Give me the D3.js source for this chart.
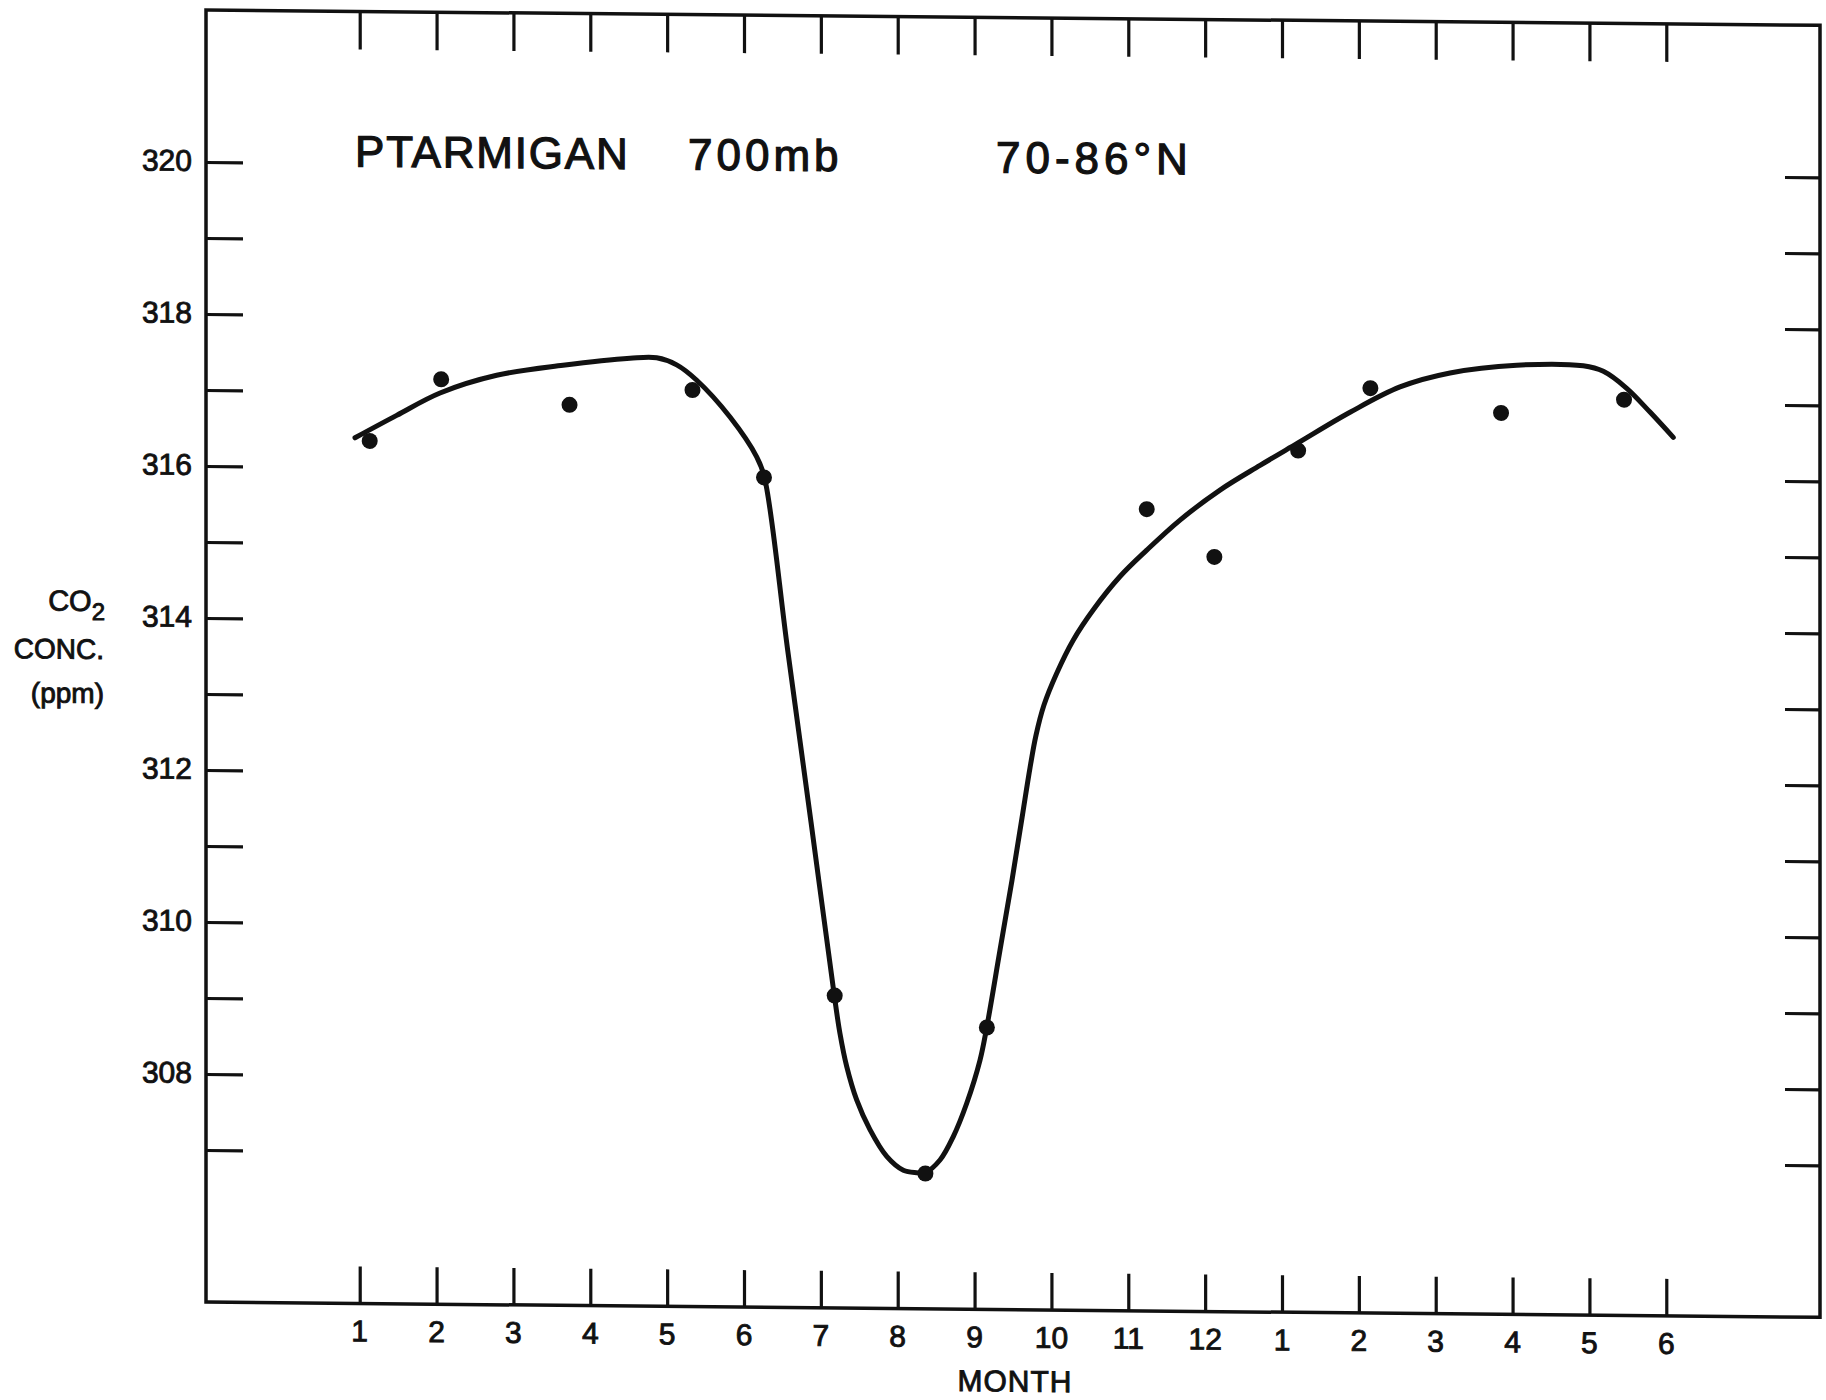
<!DOCTYPE html>
<html>
<head>
<meta charset="utf-8">
<script src="https://cdn.jsdelivr.net/npm/d3@7"></script>
<style>
  html, body { margin: 0; padding: 0; background: #fff; }
  svg { display: block; }
  text { font-family: "Liberation Sans", Arial, sans-serif; fill: #111; stroke: #111; stroke-width: 0.9; }
</style>
</head>
<body>
<svg id="chart" width="1826" height="1400"></svg>
<script>
// ---- data ----
const monthLabels = ["1","2","3","4","5","6","7","8","9","10","11","12","1","2","3","4","5","6"];
const monthPos = d3.range(1, 19);

const yTickValues = d3.range(307, 321);           // tick marks 307..320
const yLabelValues = [308, 310, 312, 314, 316, 318, 320];

// observed points (month index, ppm)
const obsMonth = [1.13, 2.06, 3.73, 5.33, 6.26, 7.18, 8.36, 9.16, 11.24, 12.12, 13.21, 14.15, 15.85, 17.45];
const obsCO2   = [316.35, 317.17, 316.85, 317.06, 315.92, 309.11, 306.78, 308.71, 315.55, 314.93, 316.34, 317.17, 316.86, 317.05];

// hand-drawn fitted curve (month index, ppm)
const curveMonth = [0.939, 1.481, 2.045, 2.782, 3.645, 4.517, 4.864, 5.124, 5.385, 5.818, 6.165, 6.264,
  6.567, 6.872, 7.175, 7.249, 7.336, 7.466, 7.639, 7.857, 8.073, 8.247, 8.355, 8.550, 8.723, 8.898,
  9.071, 9.158, 9.331, 9.487, 9.617, 9.721, 9.799, 9.903, 10.069, 10.285, 10.545, 10.892, 11.240,
  11.673, 12.193, 12.714, 13.208, 13.885, 14.535, 15.186, 16.054, 16.920, 17.181, 17.485, 17.788, 18.091];
const curveCO2   = [316.39, 316.69, 316.99, 317.23, 317.37, 317.47, 317.48, 317.39, 317.19, 316.71, 316.19, 315.93,
  313.66, 311.39, 309.11, 308.61, 308.18, 307.74, 307.35, 307.00, 306.82, 306.79, 306.79, 306.96, 307.27, 307.71,
  308.28, 308.71, 309.73, 310.65, 311.47, 312.13, 312.56, 312.96, 313.38, 313.82, 314.22, 314.66, 315.01,
  315.41, 315.81, 316.14, 316.44, 316.85, 317.19, 317.38, 317.49, 317.49, 317.42, 317.20, 316.89, 316.56];

const titleParts = ["PTARMIGAN", "700mb", "70-86°N"];
const yTitle = ["CONC.", "(ppm)"];
const xTitle = "MONTH";

// ---- layout ----
const L = 206, R = 1820, T = 10, B = 1302;
const shear = 0.0095;
const svg = d3.select("#chart");
const g = svg.append("g")
  .attr("transform", `matrix(1,${shear},0,1,0,${-shear * L})`);

const x = d3.scaleLinear().domain([-1, 20]).range([L, R]);
const y = d3.scaleLinear().domain([305, 322]).range([B, T]);

// frame
g.append("rect")
  .attr("x", L).attr("y", T).attr("width", R - L).attr("height", B - T)
  .attr("fill", "none").attr("stroke", "#111").attr("stroke-width", 3.5);

// axes (ticks inward, labels only left/bottom)
const tickLen = 37;
const axLeft = d3.axisRight(y).tickValues(yTickValues).tickSize(tickLen).tickFormat("");
const axRight = d3.axisLeft(y).tickValues(yTickValues).tickSize(35).tickFormat("");
const axTop = d3.axisBottom(x).tickValues(monthPos).tickSize(38).tickFormat("");
const axBottom = d3.axisTop(x).tickValues(monthPos).tickSize(tickLen).tickFormat("");

function styleAxis(sel) {
  sel.select(".domain").remove();
  sel.selectAll(".tick line").attr("stroke", "#111").attr("stroke-width", 3.2);
}
g.append("g").attr("transform", `translate(${L},0)`).call(axLeft).call(styleAxis);
g.append("g").attr("transform", `translate(${R},0)`).call(axRight).call(styleAxis);
g.append("g").attr("transform", `translate(0,${T})`).call(axTop).call(styleAxis);
g.append("g").attr("transform", `translate(0,${B})`).call(axBottom).call(styleAxis);

// y labels
g.append("g").selectAll("text").data(yLabelValues).join("text")
  .attr("x", 192).attr("y", d => y(d) + 9)
  .attr("text-anchor", "end").attr("font-size", 30)
  .text(d => d);

// month labels
g.append("g").selectAll("text").data(monthPos).join("text")
  .attr("x", d => x(d)).attr("y", 1340)
  .attr("text-anchor", "middle").attr("font-size", 30)
  .text((d, i) => monthLabels[i]);

g.append("text").attr("x", 1015).attr("y", 1384)
  .attr("text-anchor", "middle").attr("font-size", 30).attr("letter-spacing", 1)
  .text(xTitle);

// y title
const co = g.append("text").attr("x", 105).attr("y", 612)
  .attr("text-anchor", "end").attr("font-size", 29);
co.append("tspan").text("CO");
co.append("tspan").attr("font-size", 24).attr("dy", 9).text("2");
yTitle.forEach((t, i) => {
  g.append("text").attr("x", 104).attr("y", 660 + i * 44)
    .attr("text-anchor", "end").attr("font-size", 28).text(t);
});

// chart title
const titleX = [355, 688, 996];
const titleLS = [1.8, 4, 5];
titleParts.forEach((t, i) => {
  g.append("text").attr("x", titleX[i]).attr("y", 165)
    .attr("font-size", 44).attr("letter-spacing", titleLS[i])
    .style("stroke-width", 1.2).text(t);
});

// curve
const curveData = curveMonth.map((m, i) => [m, curveCO2[i]]);
g.append("path").datum(curveData)
  .attr("fill", "none").attr("stroke", "#111").attr("stroke-width", 5)
  .attr("stroke-linecap", "round").attr("stroke-linejoin", "round")
  .attr("d", d3.line().x(d => x(d[0])).y(d => y(d[1])).curve(d3.curveCatmullRom.alpha(0.5)));

// points
const pts = obsMonth.map((m, i) => [m, obsCO2[i]]);
g.append("g").selectAll("circle").data(pts).join("circle")
  .attr("cx", d => x(d[0])).attr("cy", d => y(d[1])).attr("r", 8)
  .attr("fill", "#111");
</script>
</body>
</html>
